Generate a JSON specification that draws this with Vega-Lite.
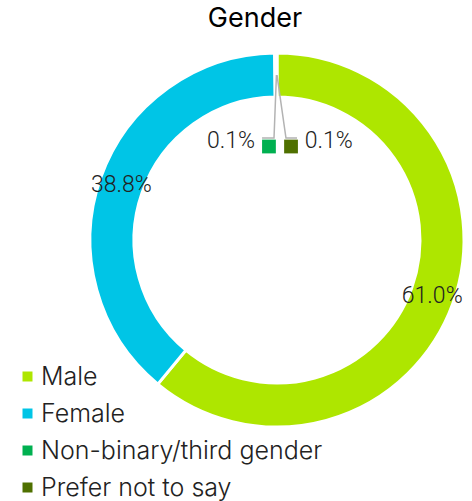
{
  "$schema": "https://vega.github.io/schema/vega-lite/v6.json",
  "width": 374,
  "height": 374,
  "autosize": {"type": "none"},
  "padding": {"left": 90, "top": 53, "right": 8, "bottom": 74},
  "background": "white",
  "title": {"text": "Gender", "font": "Inter", "fontSize": 27, "fontWeight": 400, "color": "#000000", "anchor": "middle", "dx": -22, "offset": 14},
  "datasets": {
    "gender": [
      {"ord": 1, "cat": "Male", "pct": 61.0, "label": "61.0%"},
      {"ord": 2, "cat": "Female", "pct": 38.8, "label": "38.8%"},
      {"ord": 3, "cat": "Non-binary/third gender", "pct": 0.1, "label": "0.1%"},
      {"ord": 4, "cat": "Prefer not to say", "pct": 0.1, "label": "0.1%"}
    ],
    "leaders": [
      {"cat": "Non-binary/third gender", "seq": 1, "lx": -0.003, "ly": 0.882},
      {"cat": "Non-binary/third gender", "seq": 2, "lx": -0.016, "ly": 0.545},
      {"cat": "Non-binary/third gender", "seq": 3, "lx": -0.080, "ly": 0.545},
      {"cat": "Prefer not to say", "seq": 1, "lx": 0.0, "ly": 0.882},
      {"cat": "Prefer not to say", "seq": 2, "lx": 0.048, "ly": 0.545},
      {"cat": "Prefer not to say", "seq": 3, "lx": 0.107, "ly": 0.545}
    ],
    "keys": [
      {"cat": "Non-binary/third gender", "kx": -0.043, "ky": 0.5},
      {"cat": "Prefer not to say", "kx": 0.075, "ky": 0.5}
    ]
  },
  "config": {
    "view": {"stroke": null},
    "legend": {
      "orient": "none",
      "legendX": -75,
      "legendY": 311,
      "title": null,
      "labelFont": "Inter",
      "labelFontSize": 25,
      "labelFontWeight": 300,
      "labelColor": "#222222",
      "labelOffset": 1,
      "symbolType": "square",
      "symbolSize": 100,
      "symbolStrokeWidth": 0,
      "rowPadding": 11,
      "labelLimit": 400
    }
  },
  "layer": [
    {
      "data": {"name": "gender"},
      "mark": {"type": "arc", "innerRadius": 143, "outerRadius": 187, "stroke": "white", "strokeWidth": 3},
      "encoding": {
        "theta": {"field": "pct", "type": "quantitative", "stack": true},
        "order": {"field": "ord", "type": "quantitative"},
        "color": {
          "field": "cat", "type": "nominal", "title": null,
          "scale": {
            "domain": ["Male", "Female", "Non-binary/third gender", "Prefer not to say"],
            "range": ["#aee600", "#00c5e6", "#00b050", "#4f7000"]
          }
        }
      }
    },
    {
      "data": {"name": "gender"},
      "mark": {"type": "text", "radius": 165, "font": "Roboto", "fontSize": 23, "fontWeight": 300, "color": "#222222", "align": "center", "baseline": "middle"},
      "encoding": {
        "theta": {"field": "pct", "type": "quantitative", "stack": true},
        "order": {"field": "ord", "type": "quantitative"},
        "detail": {"field": "cat"},
        "text": {"condition": {"test": "datum.pct > 1", "field": "label"}, "value": ""}
      }
    },
    {
      "data": {"name": "gender"},
      "mark": {"type": "text", "radius": 99, "dx": -21, "font": "Roboto", "fontSize": 23, "fontWeight": 300, "color": "#222222", "align": "right", "baseline": "middle"},
      "encoding": {
        "theta": {"field": "pct", "type": "quantitative", "stack": true},
        "order": {"field": "ord", "type": "quantitative"},
        "detail": {"field": "cat"},
        "text": {"condition": {"test": "datum.cat === 'Non-binary/third gender'", "field": "label"}, "value": ""}
      }
    },
    {
      "data": {"name": "gender"},
      "mark": {"type": "text", "radius": 99, "dx": 28, "font": "Roboto", "fontSize": 23, "fontWeight": 300, "color": "#222222", "align": "left", "baseline": "middle"},
      "encoding": {
        "theta": {"field": "pct", "type": "quantitative", "stack": true},
        "order": {"field": "ord", "type": "quantitative"},
        "detail": {"field": "cat"},
        "text": {"condition": {"test": "datum.cat === 'Prefer not to say'", "field": "label"}, "value": ""}
      }
    },
    {
      "data": {"name": "leaders"},
      "mark": {"type": "line", "color": "#b3b3b3", "strokeWidth": 1.5},
      "encoding": {
        "x": {"field": "lx", "type": "quantitative", "scale": {"domain": [-1, 1], "nice": false, "zero": false}, "axis": null},
        "y": {"field": "ly", "type": "quantitative", "scale": {"domain": [-1, 1], "nice": false, "zero": false}, "axis": null},
        "detail": {"field": "cat"},
        "order": {"field": "seq", "type": "quantitative"}
      }
    },
    {
      "data": {"name": "keys"},
      "mark": {"type": "point", "shape": "square", "filled": true, "opacity": 1, "size": 190},
      "encoding": {
        "x": {"field": "kx", "type": "quantitative", "scale": {"domain": [-1, 1], "nice": false, "zero": false}, "axis": null},
        "y": {"field": "ky", "type": "quantitative", "scale": {"domain": [-1, 1], "nice": false, "zero": false}, "axis": null},
        "color": {"field": "cat", "type": "nominal", "title": null}
      }
    }
  ]
}
